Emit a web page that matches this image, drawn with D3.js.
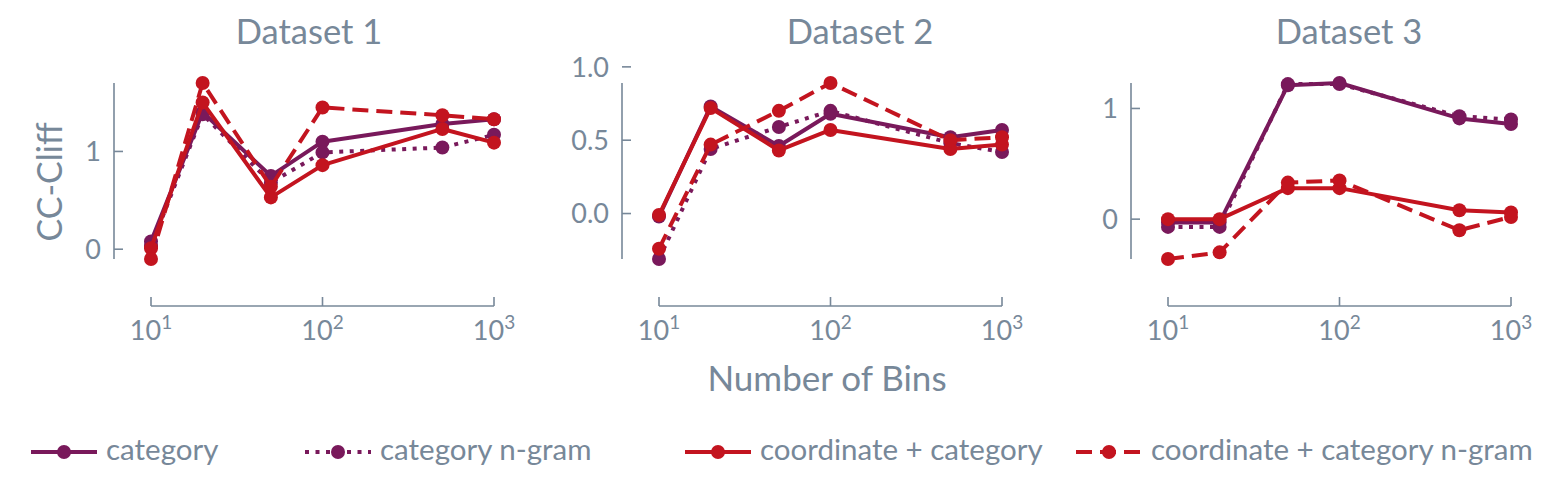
<!DOCTYPE html>
<html>
<head>
<meta charset="utf-8">
<script src="https://cdn.jsdelivr.net/npm/d3@7"></script>
<style>
  body { margin: 0; background: #fff; }
  svg text { font-family: Lato, "Open Sans", sans-serif; fill: #778899; }
</style>
</head>
<body>
<div class="chart"></div>
<script>
// x values shared by every panel
const bins = [10, 20, 50, 100, 500, 1000]
const datasets = ["Dataset 1", "Dataset 2", "Dataset 3"]
const seriesNames = ["category", "category n-gram", "coordinate + category", "coordinate + category n-gram"]

// CC-Cliff, one array per series per dataset
const category1 = [0.08, 1.40, 0.75, 1.10, 1.28, 1.33]
const categoryNgram1 = [0.03, 1.38, 0.68, 0.99, 1.04, 1.17]
const coordCategory1 = [0.01, 1.50, 0.53, 0.86, 1.23, 1.09]
const coordCategoryNgram1 = [-0.10, 1.70, 0.64, 1.45, 1.37, 1.33]

const category2 = [-0.02, 0.73, 0.46, 0.68, 0.52, 0.57]
const categoryNgram2 = [-0.31, 0.44, 0.59, 0.70, 0.48, 0.42]
const coordCategory2 = [-0.01, 0.72, 0.43, 0.57, 0.44, 0.47]
const coordCategoryNgram2 = [-0.24, 0.47, 0.70, 0.89, 0.50, 0.52]

const category3 = [-0.03, -0.03, 1.21, 1.23, 0.91, 0.86]
const categoryNgram3 = [-0.07, -0.07, 1.22, 1.22, 0.93, 0.90]
const coordCategory3 = [0.00, 0.00, 0.28, 0.28, 0.08, 0.06]
const coordCategoryNgram3 = [-0.36, -0.30, 0.33, 0.35, -0.10, 0.02]

// tick values per panel
const xTicks = [10, 100, 1000]
const yTicks1 = [0, 1]
const yTicks2 = [0, 0.5, 1.0]
const yTicks3 = [0, 1]

const panelSeries = [
  [category1, categoryNgram1, coordCategory1, coordCategoryNgram1],
  [category2, categoryNgram2, coordCategory2, coordCategoryNgram2],
  [category3, categoryNgram3, coordCategory3, coordCategoryNgram3]
]
const panelYTicks = [yTicks1, yTicks2, yTicks3]

// styling per series
const colors = ["#79195b", "#79195b", "#c3141f", "#c3141f"]
const dashes = [null, "4,6.5", null, "16,8"]
const textColor = "#778899"

const width = 1558, height = 504
const svg = d3.select(".chart").append("svg")
    .attr("width", width)
    .attr("height", height)

// layout of the three panels
const spineX = [114, 622, 1131]
const titleX = [309, 860, 1349]
const plotInset = 37, plotW = 343
const yTop = 83, yBottom = 259, xAxisY = 306

const yFmt = [d3.format("d"), d3.format(".1f"), d3.format("d")]

panelSeries.forEach((series, p) => {
  const g = svg.append("g")

  const xScale = d3.scaleLog()
      .domain([10, 1000])
      .range([spineX[p] + plotInset, spineX[p] + plotInset + plotW])

  const yScale = d3.scaleLinear()
      .domain(d3.extent(series.flat()))
      .range([yBottom, yTop])

  // y spine trimmed to the data range, ticks pointing inward
  g.append("line")
      .attr("x1", spineX[p]).attr("x2", spineX[p])
      .attr("y1", yScale.range()[0]).attr("y2", yScale.range()[1])
      .attr("stroke", textColor).attr("stroke-width", 1.6)

  const yt = g.selectAll(".ytick")
    .data(panelYTicks[p])
    .join("g")
      .attr("class", "ytick")
      .attr("transform", d => `translate(${spineX[p]},${yScale(d)})`)
  yt.append("line")
      .attr("x2", 9)
      .attr("stroke", textColor).attr("stroke-width", 1.6)
  yt.append("text")
      .attr("x", -13)
      .attr("dy", "0.36em")
      .attr("text-anchor", "end")
      .style("font-size", "27px")
      .text(d => yFmt[p](d))

  // x spine between first and last tick
  g.append("line")
      .attr("x1", xScale(10)).attr("x2", xScale(1000))
      .attr("y1", xAxisY).attr("y2", xAxisY)
      .attr("stroke", textColor).attr("stroke-width", 1.6)

  const xt = g.selectAll(".xtick")
    .data(xTicks)
    .join("g")
      .attr("class", "xtick")
      .attr("transform", d => `translate(${xScale(d)},${xAxisY})`)
  xt.append("line")
      .attr("y2", -9)
      .attr("stroke", textColor).attr("stroke-width", 1.6)
  const lbl = xt.append("text")
      .attr("y", 34)
      .attr("text-anchor", "middle")
      .style("font-size", "27px")
  lbl.append("tspan").text("10")
  lbl.append("tspan")
      .attr("dy", -11)
      .style("font-size", "19px")
      .text(d => Math.round(Math.log10(d)))

  // title
  g.append("text")
      .attr("x", titleX[p])
      .attr("y", 44)
      .attr("text-anchor", "middle")
      .style("font-size", "34.5px")
      .text(datasets[p])

  const line = d3.line()
      .x((d, i) => xScale(bins[i]))
      .y(d => yScale(d))

  series.forEach((vals, s) => {
    g.append("path")
        .datum(vals)
        .attr("d", line)
        .attr("fill", "none")
        .attr("stroke", colors[s])
        .attr("stroke-width", 4)
        .attr("stroke-dasharray", dashes[s])
        .attr("stroke-linejoin", "round")

    g.selectAll(".pt" + s)
      .data(vals)
      .join("circle")
        .attr("class", "pt" + s)
        .attr("cx", (d, i) => xScale(bins[i]))
        .attr("cy", d => yScale(d))
        .attr("r", 7)
        .attr("fill", colors[s])
  })
})

// shared axis labels
svg.append("text")
    .attr("x", 827)
    .attr("y", 391)
    .attr("text-anchor", "middle")
    .style("font-size", "35px")
    .text("Number of Bins")

svg.append("text")
    .attr("transform", "translate(62,182) rotate(-90)")
    .attr("text-anchor", "middle")
    .style("font-size", "34px")
    .text("CC-Cliff")

// legend
const legendX = [31, 305, 685, 1076]
const legendY = 452
const leg = svg.selectAll(".legend")
  .data(seriesNames)
  .join("g")
    .attr("class", "legend")
    .attr("transform", (d, i) => `translate(${legendX[i]},${legendY})`)
leg.append("line")
    .attr("x2", 66)
    .attr("stroke", (d, i) => colors[i])
    .attr("stroke-width", 4)
    .attr("stroke-dasharray", (d, i) => dashes[i])
leg.append("circle")
    .attr("cx", 33)
    .attr("r", 7)
    .attr("fill", (d, i) => colors[i])
leg.append("text")
    .attr("x", 75)
    .attr("y", 8)
    .style("font-size", "29.5px")
    .text(d => d)
</script>
</body>
</html>
